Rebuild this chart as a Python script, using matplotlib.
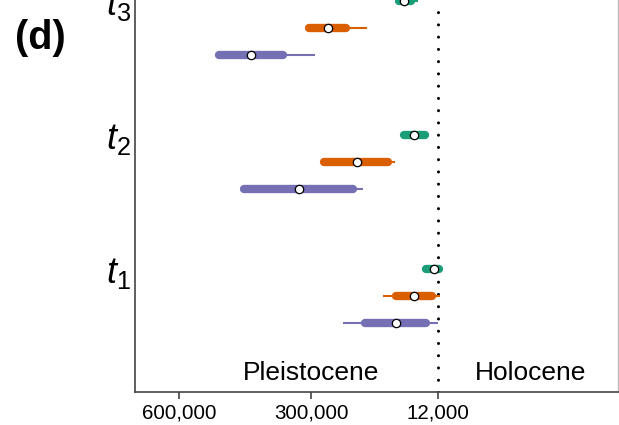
import matplotlib
matplotlib.use("Agg")
import matplotlib.pyplot as plt

plt.rcParams['font.family'] = ['Liberation Sans', 'DejaVu Sans']
plt.rcParams['mathtext.fontset'] = 'custom'
plt.rcParams['mathtext.it'] = 'Liberation Sans:italic'
plt.rcParams['mathtext.rm'] = 'Liberation Sans'

# periods, bottom to top
periods = ['$t_\\mathit{1}$', '$t_\\mathit{2}$', '$t_\\mathit{3}$']

# series (bottom row of each group first), values in years ago
series_names = ['purple', 'orange', 'green']
series_colors = ['#7570b3', '#d95f02', '#1b9e77']

# outer (thin) interval: old end, young end
outer_old = {
    'purple': [228000, 461000, 518000],
    'orange': [137000, 279000, 313000],
    'green': [48000, 98000, 109000],
}
outer_young = {
    'purple': [12000, 182000, 291000],
    'orange': [7500, 110000, 173000],
    'green': [2000, 32000, 57000],
}
# inner (thick) interval
inner_old = {
    'purple': [178000, 452000, 509000],
    'orange': [107000, 271000, 305000],
    'green': [39000, 89000, 100000],
}
inner_young = {
    'purple': [39000, 205000, 364000],
    'orange': [25500, 125000, 221000],
    'green': [9700, 41000, 73000],
}
medians = {
    'purple': [107000, 327500, 436500],
    'orange': [66500, 196000, 261700],
    'green': [21000, 66500, 89000],
}

xticks = [600000, 300000, 12000]
xtick_labels = ['600,000', '300,000', '12,000']
boundary = 12000

fig = plt.figure(figsize=(6.19, 4.25), dpi=100)
ax = fig.add_axes([0.218, 0.0776, 0.78, 0.9224])

group_gap = 5
for g in range(len(periods)):
    for k, name in enumerate(series_names):
        y = g * group_gap + k
        c = series_colors[k]
        ax.plot([outer_old[name][g], outer_young[name][g]], [y, y], color=c,
                lw=1.5, solid_capstyle='butt', zorder=2)
        ax.plot([inner_old[name][g], inner_young[name][g]], [y, y], color=c,
                lw=6, solid_capstyle='round', zorder=3)
        ax.plot(medians[name][g], y, 'o', ms=6, mfc='white', mec='black',
                mew=0.9, zorder=4)

# Pleistocene / Holocene boundary
ax.axvline(boundary, color='black', lw=2.2, linestyle=(0, (0.01, 4.0)),
           dash_capstyle='round', zorder=1)

ax.text(300000, -2.13, 'Pleistocene', fontsize=19, ha='center', va='baseline')
ax.text(-200000, -2.13, 'Holocene', fontsize=19, ha='center', va='baseline')

ax.set_xlim(700000, -397000)
ax.set_ylim(-2.57, 12.05)

ax.set_xticks(xticks)
ax.set_xticklabels(xtick_labels, fontsize=14.8)
ax.set_yticks([g * group_gap + 2 for g in range(len(periods))])
ax.set_yticklabels(periods, fontsize=26)
ax.tick_params(axis='x', length=5, width=1.2, color='#444444', pad=3)
ax.tick_params(axis='y', length=0, pad=3)

ax.spines['top'].set_visible(False)
ax.spines['left'].set_color('#444444')
ax.spines['bottom'].set_color('#444444')
ax.spines['left'].set_linewidth(1.2)
ax.spines['bottom'].set_linewidth(1.2)
ax.spines['right'].set_color('#bbbbbb')
ax.spines['right'].set_linewidth(1.0)

fig.text(0.024, 0.91, '(d)', fontsize=28.5, fontweight='bold', va='center')

fig.savefig('out.png', dpi=100)
